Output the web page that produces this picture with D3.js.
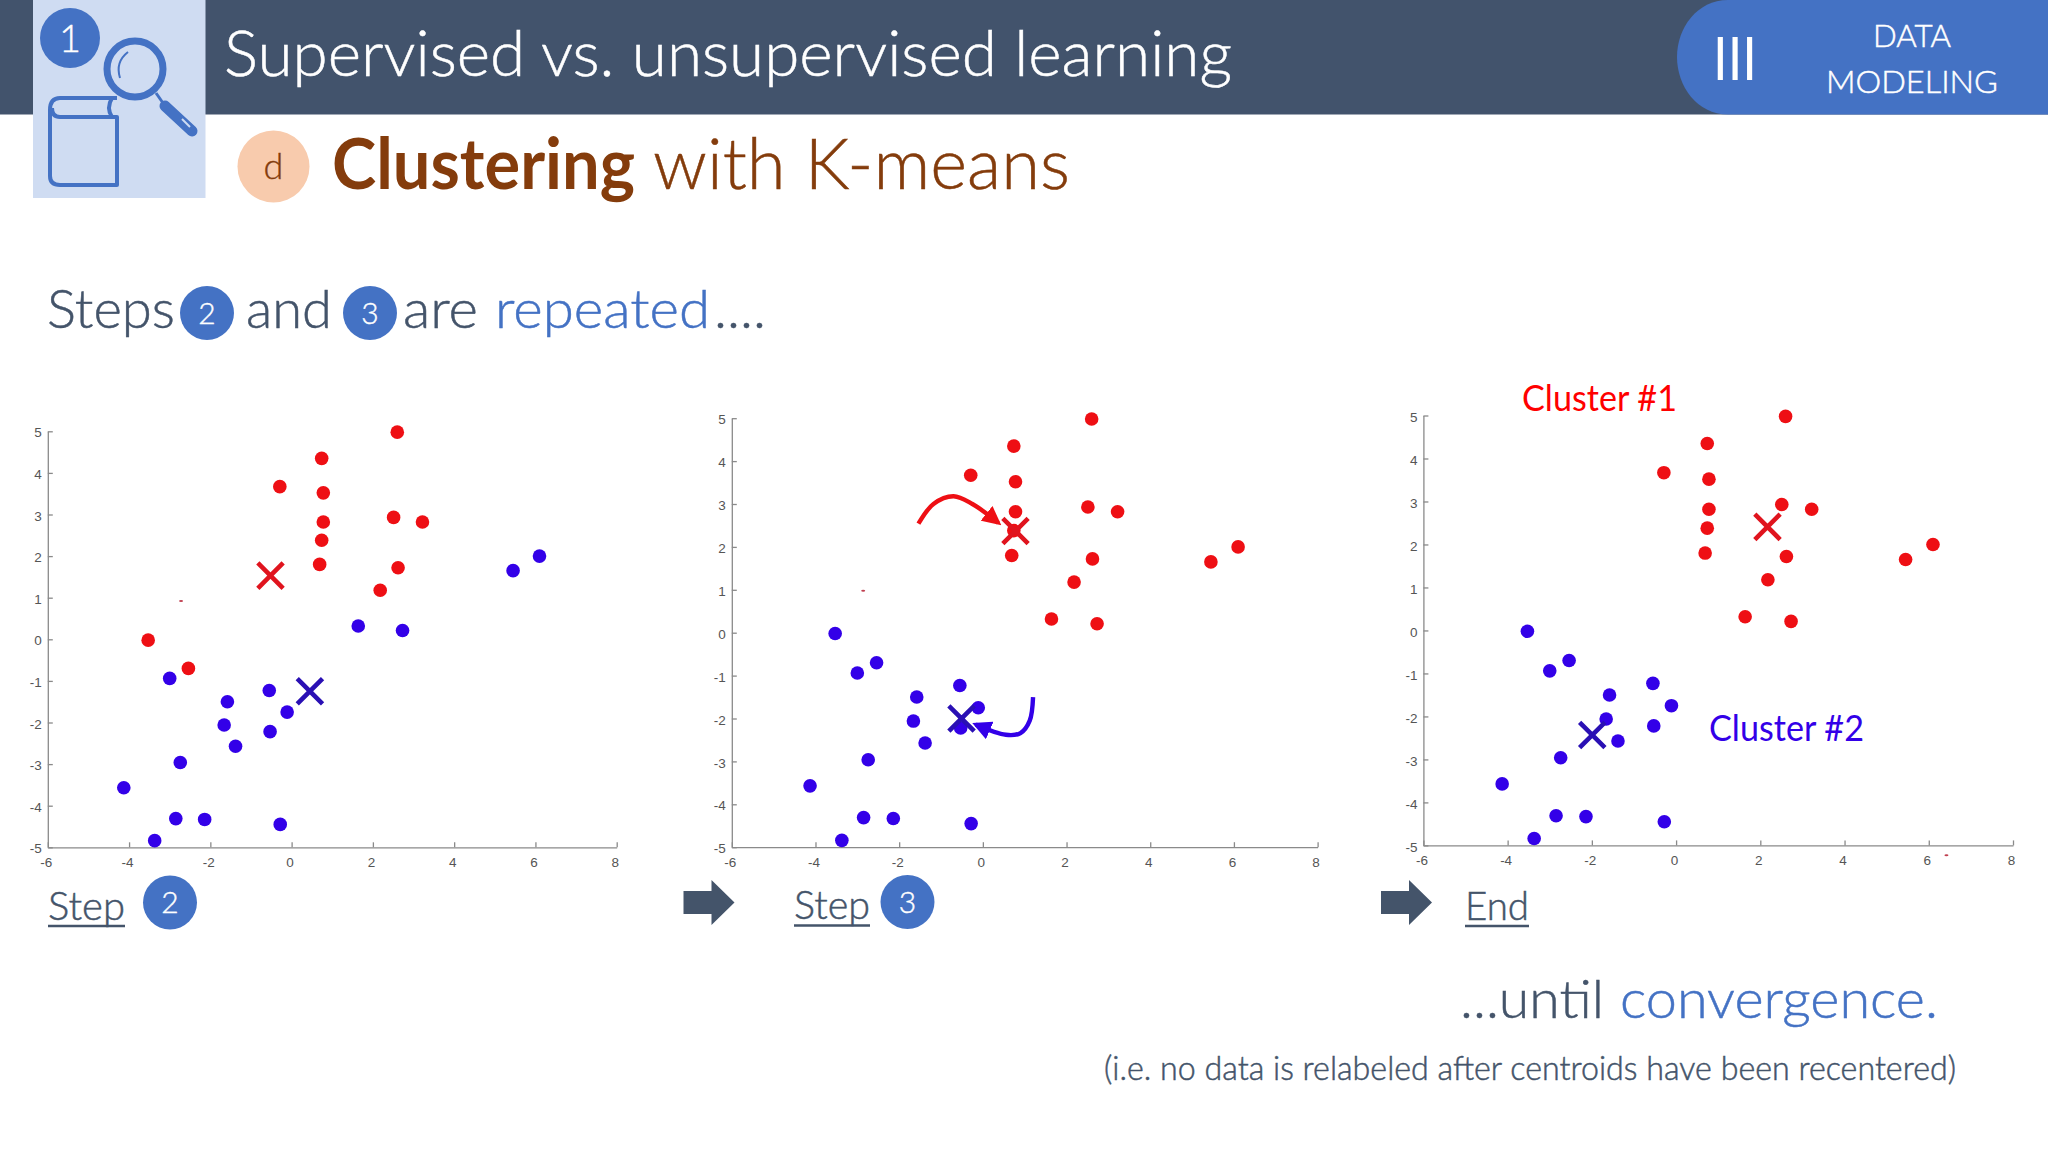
<!DOCTYPE html>
<html>
<head>
<meta charset="utf-8">
<script src="https://cdnjs.cloudflare.com/ajax/libs/d3/7.8.5/d3.min.js"></script>
<style>
  html, body { margin: 0; padding: 0; background: #fff; }
  svg { display: block; }
</style>
</head>
<body>
<div id="slide"></div>
<script>
// the 30 samples, same in all three frames
const pointX = [2.60, 0.74, -0.29, 0.78, 0.78, 2.51, 3.22, 0.74, 0.69, 2.62, 2.18, -3.53, -2.54,
  5.45, 6.10, 1.64, 2.73, -3.00, -0.55, -1.58, -0.11, -1.66, -0.53, -1.38, -2.74, -4.13, -2.85, -2.14, -0.28, -3.37];
const pointY = [4.98, 4.35, 3.67, 3.52, 2.82, 2.93, 2.82, 2.38, 1.80, 1.72, 1.18, -0.02, -0.70,
  1.65, 2.00, 0.32, 0.21, -0.94, -1.23, -1.50, -1.75, -2.06, -2.22, -2.57, -2.96, -3.57, -4.31, -4.33, -4.45, -4.84];

// cluster of each sample per frame, 1 = red, 2 = blue
const clusterStep2 = [1,1,1,1,1,1,1,1,1,1,1,1,1, 2,2,2,2,2,2,2,2,2,2,2,2,2,2,2,2,2];
const clusterStep3 = [1,1,1,1,1,1,1,1,1,1,1,2,2, 1,1,1,1,2,2,2,2,2,2,2,2,2,2,2,2,2];
const clusterEnd   = [1,1,1,1,1,1,1,1,1,1,1,2,2, 1,1,1,1,2,2,2,2,2,2,2,2,2,2,2,2,2];

const centroidX2 = [-0.52, 0.45];
const centroidY2 = [1.53, -1.25];
const centroidX3 = [0.78, -0.51];
const centroidY3 = [2.37, -2.00];
const centroidXE = [2.17, -1.99];
const centroidYE = [2.41, -2.43];

// tiny cursor leftovers in the screenshots, one per frame
const speckX = [-2.72, -2.86, 6.42];
const speckY = [0.92, 0.98, -5.23];

const xTicks = [-6, -4, -2, 0, 2, 4, 6, 8];
const yTicks = [-5, -4, -3, -2, -1, 0, 1, 2, 3, 4, 5];

// hand drawn arrows of the middle frame
const redArrowX = [-1.54, -1.18, -0.70, -0.25, 0.37];
const redArrowY = [2.54, 3.00, 3.18, 3.00, 2.56];
const blueArrowX = [1.20, 1.12, 0.90, 0.55, -0.17];
const blueArrowY = [-1.50, -2.05, -2.34, -2.38, -2.14];

const titleText = "Supervised vs. unsupervised learning";
const sectionBold = "Clustering";
const sectionRest = "with K-means";
const noteText = "(i.e. no data is relabeled after centroids have been recentered)";

const W = 2048, H = 1152;
const navy = "#44546a", blue = "#4472c4", brown = "#843c0c";
const dotColor = { 1: "#ee0f14", 2: "#3300e8" };
const crossColor = { 1: "#e0141e", 2: "#2a10b4" };

const svg = d3.select("#slide").append("svg")
  .attr("width", W).attr("height", H)
  .style("font-family", "Lato, 'Open Sans', sans-serif");

svg.append("rect").attr("width", W).attr("height", H).attr("fill", "#fff");

// stretch or squeeze to the measured width, Lato runs wider than the slide font
// light weight plus a hair of stroke sits closest to the slide's font
function word(str, x0, x1, base, size, fill, weight) {
  const t = svg.append("text")
    .attr("x", x0).attr("y", base)
    .attr("textLength", x1 - x0).attr("lengthAdjust", "spacingAndGlyphs")
    .attr("font-size", size).attr("font-weight", weight || 300)
    .attr("fill", fill).text(str);
  if (!weight) t.attr("stroke", fill).attr("stroke-width", 0.5);
  return t;
}

function badge(cx, cy, r, str, fill, color, size) {
  svg.append("circle").attr("cx", cx).attr("cy", cy).attr("r", r).attr("fill", fill);
  svg.append("text").attr("x", cx).attr("y", cy + size * 0.36)
    .attr("text-anchor", "middle").attr("font-size", size).attr("font-weight", 300)
    .attr("stroke", color).attr("stroke-width", 0.4)
    .attr("fill", color).text(str);
}

// header
svg.append("rect").attr("width", W).attr("height", 114.5).attr("fill", "#42536c");
svg.append("path").attr("fill", blue)
  .attr("d", "M2048 0L1728 0C1697 0 1677 28 1677 57C1677 86 1697 114.5 1728 114.5L2048 114.5Z");
word(titleText, 224, 1232, 76, 64, "#fff");
word("III", 1713, 1757, 80, 60, "#fff", 400);
word("DATA", 1873, 1951, 47, 32, "#fff");
word("MODELING", 1826, 1998, 93, 32, "#fff");

// book and magnifier icon
svg.append("rect").attr("x", 33).attr("y", 0).attr("width", 172.5).attr("height", 198).attr("fill", "#cfdcf2");
const icon = svg.append("g").attr("fill", "none").attr("stroke", blue).attr("stroke-width", 4);
icon.append("path").attr("stroke-linejoin", "round")
  .attr("d", "M117 98L60 98Q50 98 50 110L50 176Q50 185 60 185L117 185L117 117L60 117Q52 117 52 108");
icon.append("path").attr("d", "M112 98Q106 108 112 117");
icon.append("circle").attr("cx", 135).attr("cy", 69).attr("r", 28).attr("stroke-width", 7);
icon.append("path").attr("stroke-width", 2).attr("d", "M120 78Q115 62 128 52");
icon.append("path").attr("stroke-width", 3).attr("d", "M156 93L163 103");
icon.append("path").attr("stroke-width", 11).attr("stroke-linecap", "round").attr("d", "M165 106L192 131");
icon.append("path").attr("stroke", "#cfdcf2").attr("stroke-width", 2).attr("d", "M182 119L190 127");
badge(70, 38, 30, "1", blue, "#fff", 38);

// section heading
badge(273.5, 166.5, 36, "d", "#f8cbad", brown, 36);
word(sectionBold, 332, 635, 189, 70, brown, 700);
word(sectionRest, 653, 1070, 189, 70, brown);

// "steps ... are repeated" line
word("Steps", 47, 175, 328, 53, navy);
badge(207, 313, 27, "2", blue, "#fff", 30);
word("and", 246, 332, 328, 53, navy);
badge(370, 313, 27, "3", blue, "#fff", 30);
word("are", 403, 478, 328, 53, navy);
word("repeated", 495, 710, 328, 53, blue);
word("....", 714, 766, 328, 53, navy);

// one scatter frame, data coordinates through d3 scales and axes
function scatter(x0, x1, yTop, yBottom, cluster, centroidX, centroidY, frameIdx) {
  const xScale = d3.scaleLinear().domain([-6, 8]).range([x0, x1]);
  const yScale = d3.scaleLinear().domain([-5, 5]).range([yBottom, yTop]);
  const g = svg.append("g");

  const xAxis = d3.axisBottom(xScale).tickValues(xTicks).tickFormat(d => String(d))
    .tickSizeInner(-5).tickSizeOuter(0).tickPadding(10);
  const yAxis = d3.axisLeft(yScale).tickValues(yTicks).tickFormat(d => String(d))
    .tickSizeInner(-5).tickSizeOuter(0).tickPadding(6);

  const gx = g.append("g").attr("transform", `translate(0,${yBottom})`).call(xAxis);
  const gy = g.append("g").attr("transform", `translate(${x0},0)`).call(yAxis);
  [gx, gy].forEach(a => {
    a.selectAll("path, line").attr("stroke", "#8a8a8a").attr("stroke-width", 1.3);
    a.selectAll("text").attr("fill", "#555").attr("font-size", 13.5)
      .attr("font-family", "'Liberation Sans', Arial, sans-serif");
  });
  gx.selectAll("text").attr("dx", -2);
  gy.selectAll("text").attr("dy", "0.42em");

  g.selectAll("circle.dot")
    .data(pointX.map((d, i) => i))
    .enter().append("circle")
    .attr("class", "dot")
    .attr("cx", i => xScale(pointX[i]))
    .attr("cy", i => yScale(pointY[i]))
    .attr("r", 6.8)
    .attr("fill", i => dotColor[cluster[i]]);

  const cross = d3.symbol().type(d3.symbolX).size(420);
  g.selectAll("path.centroid")
    .data([0, 1])
    .enter().append("path")
    .attr("class", "centroid")
    .attr("transform", i => `translate(${xScale(centroidX[i])},${yScale(centroidY[i])})`)
    .attr("d", cross)
    .attr("fill", "none")
    .attr("stroke", i => crossColor[i + 1])
    .attr("stroke-width", 4.6);

  g.append("ellipse")
    .attr("cx", xScale(speckX[frameIdx])).attr("cy", yScale(speckY[frameIdx]))
    .attr("rx", 2).attr("ry", 1).attr("fill", "#c04050");

  return { xScale, yScale };
}

const frame2 = scatter(47.8, 616.7, 431.3, 847.3, clusterStep2, centroidX2, centroidY2, 0);
const frame3 = scatter(731.8, 1317.6, 418.2, 847.2, clusterStep3, centroidX3, centroidY3, 1);
const frameE = scatter(1423.4, 2013, 415.5, 845.4, clusterEnd, centroidXE, centroidYE, 2);

// curved arrows
const defs = svg.append("defs");
[["headRed", dotColor[1]], ["headBlue", dotColor[2]]].forEach(([id, c]) => {
  defs.append("marker").attr("id", id)
    .attr("viewBox", "0 0 10 10").attr("refX", 8).attr("refY", 5)
    .attr("markerUnits", "userSpaceOnUse").attr("markerWidth", 19).attr("markerHeight", 19)
    .attr("orient", "auto")
    .append("path").attr("d", "M0 0L10 5L0 10Z").attr("fill", c);
});
const curve = d3.line()
  .x(d => frame3.xScale(d[0]))
  .y(d => frame3.yScale(d[1]))
  .curve(d3.curveCatmullRom);
svg.append("path").attr("d", curve(d3.zip(redArrowX, redArrowY)))
  .attr("fill", "none").attr("stroke", dotColor[1]).attr("stroke-width", 4.4).attr("marker-end", "url(#headRed)");
svg.append("path").attr("d", curve(d3.zip(blueArrowX, blueArrowY)))
  .attr("fill", "none").attr("stroke", dotColor[2]).attr("stroke-width", 4.4).attr("marker-end", "url(#headBlue)");

// captions under the frames
function underlined(str, x0, x1, base) {
  word(str, x0, x1, base, 40, navy);
  svg.append("line").attr("x1", x0).attr("x2", x1).attr("y1", base + 6.5).attr("y2", base + 6.5)
    .attr("stroke", navy).attr("stroke-width", 2.6);
}
function blockArrow(x, cy) {
  svg.append("path").attr("fill", navy)
    .attr("d", `M${x} ${cy - 11.5}H${x + 28}V${cy - 22.5}L${x + 51} ${cy}L${x + 28} ${cy + 22.5}V${cy + 11.5}H${x}Z`);
}
underlined("Step", 48, 125, 919.5);
badge(170, 902.5, 27, "2", blue, "#fff", 30);
blockArrow(683.5, 902.5);
underlined("Step", 794, 870, 919);
badge(907.5, 902, 27, "3", blue, "#fff", 30);
blockArrow(1381, 902.5);
underlined("End", 1465, 1529, 919.5);

word("Cluster #1", 1522, 1677, 411, 37, "#ff0000", 400);
word("Cluster #2", 1709, 1864, 741, 37, "#3300e8", 400);

// closing lines
word("...until", 1460, 1604, 1018, 54, navy);
word("convergence.", 1620, 1938, 1018, 54, blue);
word(noteText, 1104, 1956, 1080, 33, navy);
</script>
</body>
</html>
